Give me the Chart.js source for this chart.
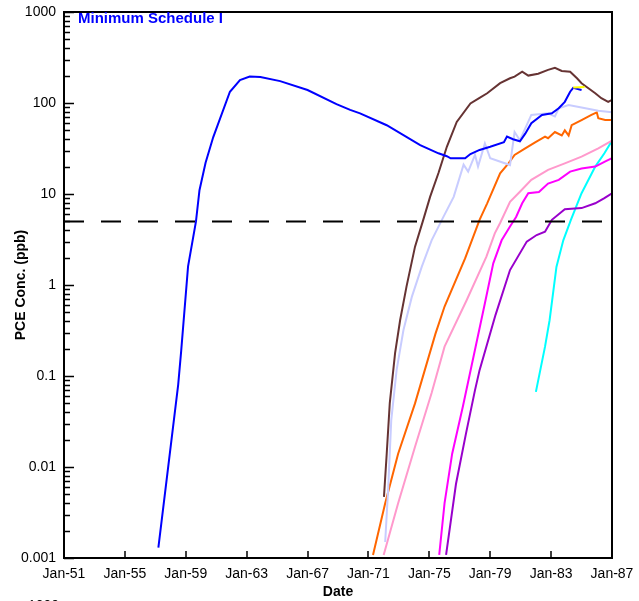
<!DOCTYPE html>
<html>
<head>
<meta charset="utf-8">
<script src="https://cdn.jsdelivr.net/npm/chart.js@4/dist/chart.umd.min.js"></script>
<style>
  html, body { margin: 0; padding: 0; background: #fff; overflow: hidden; }
  body { width: 639px; height: 601px; position: relative; }
  #stray { position: absolute; left: 28px; top: 597px; font: 14px "Liberation Sans", Arial, sans-serif; color: #000; }
</style>
</head>
<body>
<canvas id="pceChart" width="639" height="601"></canvas>
<div id="stray">1000</div>
<script>
// x-axis: years (decimal), y-axis: PCE concentration in ppb (log)
const xTickYears = [1951, 1955, 1959, 1963, 1967, 1971, 1975, 1979, 1983, 1987];
const yTickValues = [0.001, 0.01, 0.1, 1, 10, 100, 1000];
const yTickLabels = ['0.001', '0.01', '0.1', '1', '10', '100', '1000'];
const mcl = 5;

const blueSeries = [
  [1957.2, 0.0013], [1958.5, 0.08], [1958.7, 0.19], [1959.15, 1.6], [1959.67, 5],
  [1959.9, 11], [1960.3, 22], [1960.8, 42], [1961.9, 133], [1962.56, 179],
  [1963.2, 195], [1963.9, 193], [1965.2, 174], [1967.0, 139], [1968.9, 97],
  [1969.8, 84], [1970.45, 77], [1972.2, 57], [1974.4, 34.5], [1975.6, 28],
  [1976.15, 26], [1976.4, 24.7], [1977.35, 24.7], [1977.7, 27.5], [1978.3, 30.5],
  [1979.0, 33], [1979.9, 37], [1980.1, 42.7], [1980.5, 40], [1980.95, 38],
  [1981.3, 46], [1981.7, 60], [1982.4, 74], [1983.05, 77], [1983.5, 87.5],
  [1983.9, 103], [1984.25, 133], [1984.45, 147], [1985.0, 139]
];
const yellowSeries = [[1984.45, 148], [1985.2, 150]];
const brownSeries = [
  [1972.02, 0.0047], [1972.2, 0.014], [1972.4, 0.05], [1972.75, 0.178], [1973.08, 0.41],
  [1973.5, 0.96], [1974.06, 2.64], [1974.6, 5.2], [1975.05, 9.3], [1975.6, 17],
  [1976.15, 33], [1976.8, 62], [1977.7, 99], [1978.3, 114], [1978.8, 128],
  [1979.65, 165], [1980.3, 187], [1980.6, 195], [1981.1, 221], [1981.5, 200],
  [1982.15, 210], [1982.8, 231], [1983.25, 244], [1983.7, 225], [1984.25, 221],
  [1984.7, 187], [1985.0, 165], [1985.45, 145], [1985.9, 128], [1986.3, 113],
  [1986.75, 103], [1987, 108]
];
const lavenderSeries = [
  [1972.1, 0.0015], [1972.3, 0.006], [1972.5, 0.033], [1972.85, 0.116], [1973.3, 0.32],
  [1973.85, 0.74], [1974.5, 1.58], [1975.15, 3.1], [1975.9, 5.5], [1976.6, 9.3],
  [1977.25, 21], [1977.55, 17.6], [1978.0, 26.9], [1978.2, 20], [1978.65, 36],
  [1979.0, 24.7], [1980.3, 20.8], [1980.6, 48], [1980.95, 39], [1981.7, 74],
  [1982.8, 77], [1983.25, 71], [1983.5, 87.5], [1984.15, 95], [1985.0, 89],
  [1986.1, 82], [1987, 79]
];
const orangeSeries = [
  [1971.3, 0.00108], [1972.1, 0.004], [1972.95, 0.014], [1974.06, 0.05], [1975.4, 0.29],
  [1976.0, 0.58], [1977.35, 1.96], [1978.3, 5.2], [1978.8, 7.9], [1979.65, 16.9],
  [1980.2, 21.7], [1980.6, 26.9], [1981.3, 31.8], [1981.95, 37], [1982.6, 42.7],
  [1982.8, 41], [1983.25, 48], [1983.7, 44], [1983.9, 50], [1984.15, 44],
  [1984.35, 57], [1985.0, 65], [1985.65, 74], [1986.0, 79], [1986.1, 68],
  [1986.55, 65], [1987, 65]
];
const pinkSeries = [
  [1972.0, 0.00108], [1972.95, 0.004], [1974.06, 0.0167], [1975.15, 0.065], [1976.0, 0.21],
  [1977.45, 0.68], [1978.75, 2.05], [1979.3, 3.7], [1979.65, 4.8], [1980.3, 8.2],
  [1980.95, 10.6], [1981.7, 14.3], [1982.8, 18.4], [1983.9, 21.7], [1985.0, 25.7],
  [1986.1, 31.8], [1987, 38.5]
];
const magentaSeries = [
  [1975.65, 0.00108], [1976.0, 0.004], [1976.5, 0.014], [1977.2, 0.046], [1977.95, 0.178],
  [1978.65, 0.63], [1979.2, 1.73], [1979.75, 3.1], [1980.3, 4.4], [1980.7, 5.6],
  [1981.1, 7.9], [1981.5, 10.2], [1982.2, 10.5], [1982.8, 13], [1983.5, 14.3],
  [1984.25, 17.6], [1985.0, 19.1], [1985.9, 20], [1986.5, 22.6], [1987, 24.7]
];
const purpleSeries = [
  [1976.1, 0.00108], [1976.75, 0.0065], [1977.4, 0.023], [1978.0, 0.07], [1978.3, 0.116],
  [1979.35, 0.47], [1980.3, 1.46], [1981.4, 3.0], [1982.05, 3.54], [1982.6, 3.85],
  [1983.05, 5.2], [1983.9, 6.8], [1985.0, 7.0], [1985.9, 7.9], [1986.5, 9.0],
  [1987, 10.2]
];
const cyanSeries = [
  [1982.0, 0.067], [1982.6, 0.21], [1982.9, 0.41], [1983.35, 1.58], [1983.8, 3.1],
  [1984.3, 5.2], [1985.0, 10.2], [1985.9, 20], [1986.5, 28], [1987, 38.5]
];
const mclLine = [[1951, mcl], [1986.4, mcl]];

const FONT = '"Liberation Sans", Arial, sans-serif';

function toPoints(arr) {
  return arr.map(p => ({ x: p[0], y: p[1] }));
}

function series(data, color) {
  return {
    data: toPoints(data),
    borderColor: color,
    borderWidth: 2,
    pointRadius: 0,
    tension: 0,
    fill: false
  };
}

// inward tick marks, frame and the schedule title
const framePlugin = {
  id: 'frame',
  afterDatasetsDraw(chart) {
    const { ctx, chartArea: a, scales } = chart;
    ctx.save();
    ctx.strokeStyle = '#000';
    ctx.lineWidth = 2;
    ctx.strokeRect(a.left, a.top, a.right - a.left, a.bottom - a.top);
    ctx.lineWidth = 1.5;
    ctx.beginPath();
    for (let e = -3; e < 3; e++) {
      for (let m = 1; m <= 9; m++) {
        const y = Math.round(scales.y.getPixelForValue(m * Math.pow(10, e))) + 0.5;
        const len = m === 1 ? 10 : 6;
        ctx.moveTo(a.left, y);
        ctx.lineTo(a.left + len, y);
      }
    }
    const yTop = Math.round(scales.y.getPixelForValue(1000)) + 0.5;
    ctx.moveTo(a.left, yTop);
    ctx.lineTo(a.left + 10, yTop);
    xTickYears.forEach(yr => {
      const x = Math.round(scales.x.getPixelForValue(yr));
      ctx.moveTo(x, a.bottom);
      ctx.lineTo(x, a.bottom - 7);
    });
    ctx.stroke();
    ctx.fillStyle = '#0000ff';
    ctx.font = 'bold 15px ' + FONT;
    ctx.textBaseline = 'middle';
    ctx.fillText('Minimum Schedule I', a.left + 14, a.top + 7);
    ctx.restore();
  }
};

const chart = new Chart(document.getElementById('pceChart'), {
  type: 'line',
  data: {
    datasets: [
      Object.assign(series(mclLine, '#000'), { borderDash: [20, 17] }),
      series(yellowSeries, '#ffff00'),
      series(blueSeries, '#0000ff'),
      series(brownSeries, '#663333'),
      series(lavenderSeries, '#c8ccff'),
      series(orangeSeries, '#ff6600'),
      series(pinkSeries, '#ff99cc'),
      series(magentaSeries, '#ff00ff'),
      series(purpleSeries, '#9900cc'),
      series(cyanSeries, '#00ffff')
    ]
  },
  options: {
    responsive: false,
    animation: false,
    layout: { padding: { top: 12, right: 27, left: 13, bottom: 0 } },
    plugins: { legend: { display: false }, tooltip: { enabled: false } },
    scales: {
      x: {
        type: 'linear',
        min: 1951,
        max: 1987,
        afterBuildTicks: s => { s.ticks = xTickYears.map(v => ({ value: v })); },
        ticks: {
          callback: v => 'Jan-' + String(v).slice(2),
          font: { family: FONT, size: 14 },
          color: '#000',
          padding: 8,
          maxRotation: 0,
          autoSkip: false
        },
        grid: { display: false, drawTicks: false },
        border: { display: false },
        title: { display: true, text: 'Date', font: { family: FONT, size: 14, weight: 'bold' }, color: '#000', padding: 0 },
        afterFit: s => { s.height = 43; s.paddingLeft = 0; s.paddingRight = 0; }
      },
      y: {
        type: 'logarithmic',
        min: 0.001,
        max: 1000,
        afterBuildTicks: s => { s.ticks = yTickValues.map(v => ({ value: v })); },
        ticks: {
          callback: (v) => {
            const i = yTickValues.findIndex(t => Math.abs(t - v) / t < 1e-6);
            return i >= 0 ? yTickLabels[i] : '';
          },
          font: { family: FONT, size: 14 },
          color: '#000',
          padding: 8,
          autoSkip: false
        },
        grid: { display: false, drawTicks: false },
        border: { display: false },
        title: { display: true, text: 'PCE Conc. (ppb)', font: { family: FONT, size: 14, weight: 'bold' }, color: '#000', padding: 0 },
        afterFit: s => { s.width = 51; s.paddingTop = 0; s.paddingBottom = 0; }
      }
    }
  },
  plugins: [framePlugin]
});
</script>
</body>
</html>
